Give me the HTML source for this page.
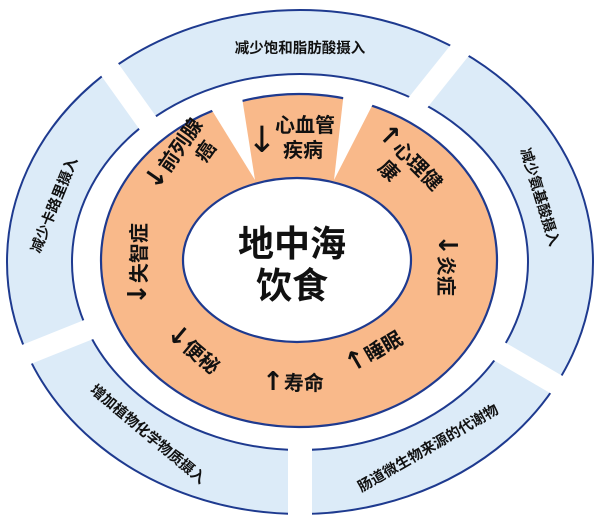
<!DOCTYPE html>
<html><head><meta charset="utf-8"><style>
html,body{margin:0;padding:0;background:#fff;}
svg{display:block;}
text{font-family:"Liberation Sans","Noto Sans CJK SC","DejaVu Sans",sans-serif;fill:#111;}
.o{font-size:14.5px;font-weight:bold;}
.b{font-size:20px;font-weight:bold;}
.c{font-size:36px;font-weight:bold;}
.a{font-family:"DejaVu Sans",sans-serif;font-size:26px;font-weight:bold;}
</style></head><body>
<svg width="600" height="523" viewBox="0 0 600 523">
<ellipse cx="300" cy="262" rx="293" ry="252" fill="#dcebf8" stroke="#1e3a8f" stroke-width="2"/>
<ellipse cx="300" cy="262" rx="228" ry="188" fill="#fff" stroke="#1e3a8f" stroke-width="2"/>
<g stroke="#fff" stroke-width="21">
<line x1="160" y1="140" x2="85" y2="35"/>
<line x1="400" y1="125" x2="480" y2="25"/>
<line x1="480" y1="340" x2="600" y2="410"/>
<line x1="300" y1="420" x2="300" y2="530" stroke-width="24"/>
<line x1="100" y1="325" x2="-5" y2="367"/>
</g>
<ellipse cx="299" cy="260.5" rx="198" ry="166.5" fill="#f9b98a" stroke="#1e3a8f" stroke-width="2.2"/>
<ellipse cx="297" cy="260" rx="114" ry="82" fill="#fff" stroke="#1e3a8f" stroke-width="2.2"/>
<polygon points="205,99 241,91 255,180" fill="#fff"/>
<polygon points="344,91 376,98 334,180" fill="#fff"/>

<text class="o" x="300" y="53" text-anchor="middle">减少饱和脂肪酸摄入</text>
<text class="o" transform="translate(540,197) rotate(73)" text-anchor="middle" dy="5">减少氨基酸摄入</text>
<text class="o" transform="translate(54,205) rotate(-68)" text-anchor="middle" dy="5">减少卡路里摄入</text>
<text class="o" transform="translate(148,434) rotate(40)" text-anchor="middle" dy="5">增加植物化学物质摄入</text>
<text class="o" transform="translate(428,448) rotate(-30)" text-anchor="middle" dy="5">肠道微生物来源的代谢物</text>

<text class="c" x="292" y="256" text-anchor="middle">地中海</text>
<text class="c" x="292" y="298" text-anchor="middle">饮食</text>

<text x="262" y="152" style="font-size:36px;font-family:'DejaVu Sans',sans-serif" text-anchor="middle">↓</text>
<text class="b" x="305" y="132" text-anchor="middle">心血管</text>
<text class="b" x="303" y="157" text-anchor="middle">疾病</text>

<g transform="translate(180,158) rotate(-55)">
<text class="b" x="0" y="0" text-anchor="middle"><tspan class="a">↓</tspan>前列腺</text>
<text class="b" x="20" y="24" text-anchor="middle">癌</text>
</g>
<g transform="translate(405,163) rotate(45)">
<text class="b" x="0" y="0" text-anchor="middle"><tspan class="a">↑</tspan>心理健</text>
<text class="b" x="-6" y="24" text-anchor="middle">康</text>
</g>
<text class="b" transform="translate(446,265) rotate(90)" text-anchor="middle" dy="7"><tspan class="a">↓</tspan>炎症</text>
<text class="b" transform="translate(374,352) rotate(-30)" text-anchor="middle" dy="7"><tspan class="a">↑</tspan>睡眠</text>
<text class="b" x="293" y="390" text-anchor="middle"><tspan class="a">↑</tspan>寿命</text>
<text class="b" transform="translate(193,350) rotate(40)" text-anchor="middle" dy="7"><tspan class="a">↓</tspan>便秘</text>
<text class="b" transform="translate(139,264) rotate(-90)" text-anchor="middle" dy="7"><tspan class="a">↓</tspan>失智症</text>
</svg>
</body></html>
